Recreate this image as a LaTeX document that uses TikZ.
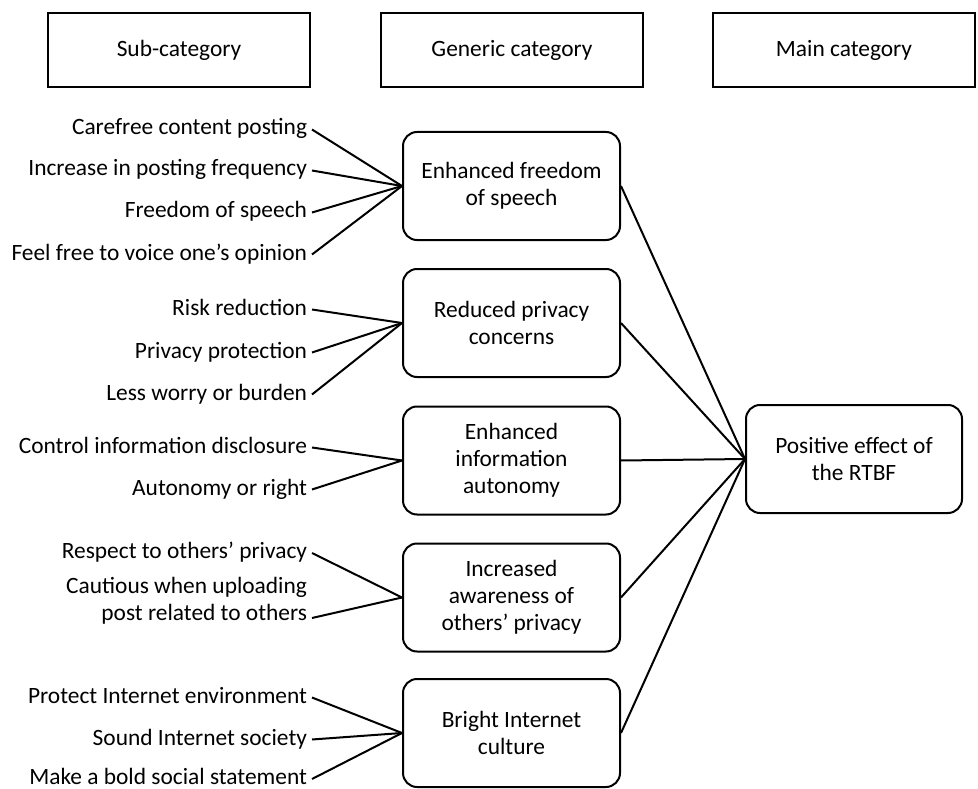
\documentclass[tikz,border=0pt]{standalone}
\usepackage{fontspec}
\setmainfont{Carlito}
\usetikzlibrary{positioning}

\begin{document}
\begin{tikzpicture}[x=1pt, y=-1pt, line width=2pt,
    font=\fontsize{23.4}{27}\selectfont,
    head/.style={draw, minimum width=262pt, minimum height=74pt, inner sep=0pt},
    gen/.style={draw, rounded corners=14pt, minimum width=217pt, minimum height=108pt, align=center, inner sep=0pt},
    sub/.style={anchor=east, inner xsep=4pt, inner ysep=0pt, text height=16pt, text depth=5pt}]
    \useasboundingbox (0,0) rectangle (978,789);
    % Column headers
    \node[head] (hsub) at (179,50) {Sub-category};
    \node[head] (hgen) at (512,50) {Generic category};
    \node[head] (hmain) at (844,50) {Main category};
    % Generic categories and the main category
    \node[gen] (g1) at (511.5,186) {Enhanced freedom\\of speech};
    \node[gen] (g2) at (511.5,323) {Reduced privacy\\concerns};
    \node[gen] (g3) at (511.5,460.5) {Enhanced\\information\\autonomy};
    \node[gen] (g4) at (511.5,597.5) {Increased\\awareness of\\others' privacy};
    \node[gen] (g5) at (511.5,733) {Bright Internet\\culture};
    \node[gen, minimum width=216pt] (m) at (854,459) {Positive effect of\\the RTBF};
    % Sub-categories (right aligned)
    \foreach \y/\n/\t in {129.5/s1/Carefree content posting, 170.5/s2/Increase in posting frequency,
        212.5/s3/Freedom of speech, 254.5/s4/Feel free to voice one's opinion,
        309.5/s5/Risk reduction, 352.5/s6/Privacy protection, 394.5/s7/Less worry or burden,
        447.5/s8/Control information disclosure, 489.5/s9/Autonomy or right,
        553/s10/Respect to others' privacy,
        697.5/s12/Protect Internet environment, 739.5/s13/Sound Internet society,
        779/s14/Make a bold social statement} {
        \node[sub] (\n) at (312,\y) {\t};
    }
    \node[sub, anchor=south east, align=right, text height=, text depth=] (s11) at (312,625)
        {Cautious when uploading\\post related to others};
    % Connectors
    \foreach \s/\g in {s1/g1, s2/g1, s3/g1, s4/g1, s5/g2, s6/g2, s7/g2, s8/g3, s9/g3,
        s10/g4, s12/g5, s13/g5, s14/g5} {
        \draw (\s.east) -- (\g.west);
    }
    \draw ([yshift=7pt]s11.south east) -- (g4.west);
    \foreach \g in {g1, g2, g3, g4, g5} {
        \draw (\g.east) -- (m.west);
    }
\end{tikzpicture}
\end{document}
